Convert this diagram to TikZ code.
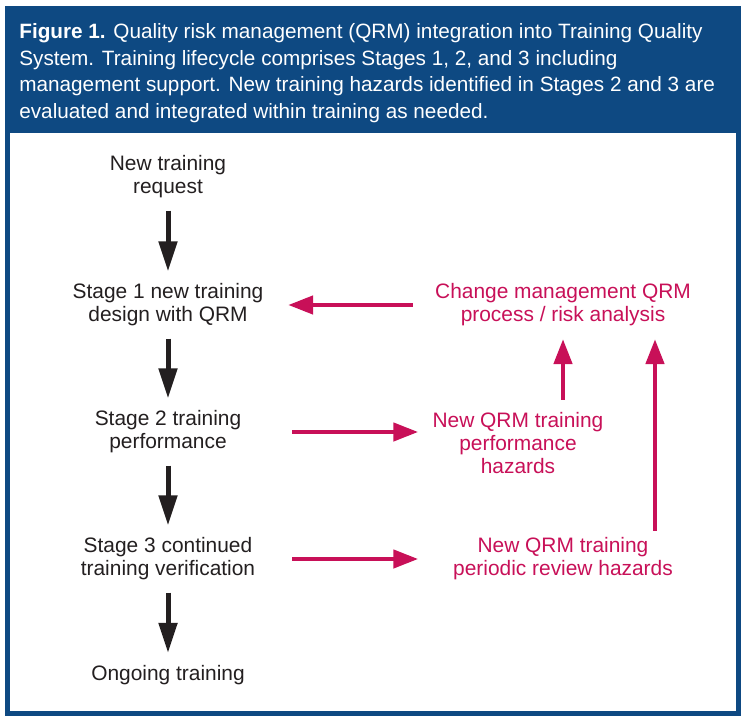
\documentclass[tikz,border=0pt]{standalone}
\usepackage{fontspec}
\setmainfont{Liberation Sans}
\usetikzlibrary{arrows.meta}
\definecolor{qrmblue}{RGB}{14,73,130}
\definecolor{qrmred}{RGB}{200,16,88}
\definecolor{qrmblack}{RGB}{35,31,32}
\begin{document}
\begin{tikzpicture}[x=0.02cm, y=-0.02cm,
    txt/.style={align=center, inner sep=0pt, font=\fontsize{11.9}{13.1}\selectfont},
    stage/.style={txt, text=qrmblack},
    hazard/.style={txt, text=qrmred},
    down/.style={-{Triangle[length=0.6cm, width=0.36cm]}, line width=0.1cm,
      draw=qrmblack, shorten <=0.24cm, shorten >=0.24cm},
    flow/.style={-{Triangle[length=0.5cm, width=0.36cm]}, line width=0.09cm, draw=qrmred}]
    \useasboundingbox (0, 0) rectangle (746, 722);
    \fill[qrmblue] (5, 6) rectangle (741, 716);
    \fill[white] (10, 133) rectangle (736, 711);
    \node[anchor=north west, inner sep=0pt, align=left, text=white,
      font=\fontsize{11.8}{15.2}\selectfont] (caption) at (19, 23)
      {\textbf{Figure 1.} Quality risk management (QRM) integration into Training Quality\\
      System. Training lifecycle comprises Stages 1, 2, and 3 including\\
      management support. New training hazards identified in Stages 2 and 3 are\\
      evaluated and integrated within training as needed.};

    \node[stage] (request) at (168, 177) {New training\\request};
    \node[stage] (stage1) at (168, 305) {Stage 1 new training\\design with QRM};
    \node[stage] (stage2) at (168, 432) {Stage 2 training\\performance};
    \node[stage] (stage3) at (168, 559) {Stage 3 continued\\training verification};
    \node[stage] (ongoing) at (168, 675) {Ongoing training};

    \node[hazard] (change) at (563, 305) {Change management QRM\\process / risk analysis};
    \node[hazard] (perf) at (518, 443) {New QRM training\\performance\\hazards};
    \node[hazard] (review) at (563, 559) {New QRM training\\periodic review hazards};

    \draw[down] (request) -- (stage1);
    \draw[down] (stage1) -- (stage2);
    \draw[down] (stage2) -- (stage3);
    \draw[down] (stage3) -- (ongoing);

    \draw[flow, shorten <=0.44cm, shorten >=0.49cm] (change.west) -- (stage1.east);
    \draw[flow, shorten <=0.57cm, shorten >=0.28cm] (stage2 -| stage1.east) -- (stage2 -| perf.west);
    \draw[flow, shorten <=0.57cm, shorten >=0.28cm] (stage3 -| stage1.east) -- (stage3 -| perf.west);
    \draw[flow, shorten <=0.24cm, shorten >=0.25cm] (perf.north -| change) -- (change.south);
    \draw[flow, shorten <=0.13cm, shorten >=0.25cm] ([xshift=1.84cm]review.north) -- ([xshift=1.84cm]change.south);
\end{tikzpicture}
\end{document}
